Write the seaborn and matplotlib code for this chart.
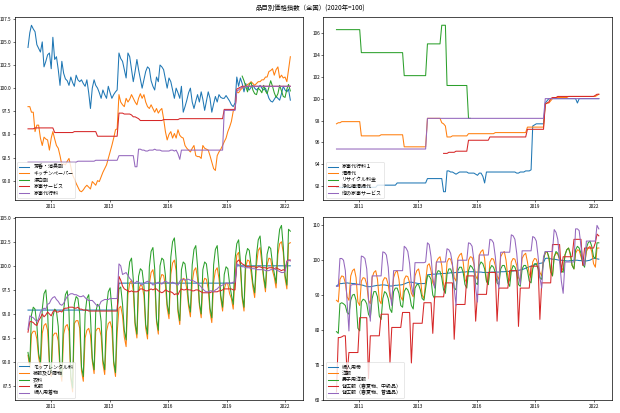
import numpy as np
import pandas as pd
import matplotlib
matplotlib.use("Agg")
import matplotlib.pyplot as plt
import matplotlib.dates as mdates
from matplotlib.ticker import MultipleLocator
import seaborn as sns

nan = np.nan
months = pd.date_range("2010-01-01", periods=148, freq="MS")

# ----------------------------
# panel 1
# ----------------------------
aroma = [
    104.4, 106.0, 106.8, 106.4, 106.1, 104.7, 104.3, 103.9, 105.0, 102.3, 102.9, 103.6,
    103.8, 102.1, 105.5, 103.1, 103.4, 102.0, 100.3, 102.9, 101.6, 101.0, 100.8, 100.3,
    101.2, 100.6, 100.2, 101.4, 100.9, 100.7, 100.9, 100.5, 100.2, 100.9, 99.5, 97.8,
    100.0, 100.9, 100.3, 100.0, 99.5, 98.9, 99.8, 99.3, 98.9, 100.2, 99.5, 98.9,
    99.3, 99.6, 99.8, 103.8, 103.2, 102.9, 102.0, 101.1, 103.8, 103.4, 102.0, 100.7,
    101.8, 103.1, 102.0, 101.0, 100.0, 100.9, 101.8, 102.3, 102.1, 100.8, 100.2, 99.8,
    101.2, 100.7, 102.5, 102.3, 102.0, 101.0, 100.0, 101.1, 100.7, 99.8, 98.9, 100.0,
    99.5, 98.9, 100.2, 97.4, 98.0, 98.7, 99.5, 100.0, 98.5, 97.8, 98.6, 99.3,
    98.5, 99.6, 98.8, 97.6, 98.6, 99.6, 98.9, 97.4, 98.3, 99.1, 98.5, 99.3,
    99.0, 98.9, 98.9, 99.2, 98.9, 98.6, 98.2, 98.0, 98.4, 101.2, 100.2, 101.1,
    100.5, 99.6, 100.5, 100.0, 99.8, 100.1, 100.3, 100.0, 99.8, 100.0, 100.3, 100.0,
    99.8, 100.0, 99.5, 98.9, 98.6, 98.5, 98.8, 99.1, 98.9, 98.7, 99.4, 100.2,
    99.8, 99.6, 99.9, 98.7,
]
kitchen_paper = [
    98.0, 98.0, 97.4, 97.4, 95.3, 96.0, 96.0, 94.6, 93.8, 94.7, 94.5, 94.4,
    93.3, 94.6, 95.3, 94.5, 93.8, 93.5, 92.7, 91.7, 91.8, 91.7, 92.1, 92.4,
    91.5, 90.6, 90.2, 89.7, 89.3, 88.9, 88.8, 89.0, 89.3, 89.5, 89.3, 89.1,
    89.9, 89.7, 89.5, 90.0, 89.9, 90.4, 90.9, 91.3, 91.7, 92.4, 93.1, 93.8,
    94.6, 95.5, 95.6, 99.3, 98.5, 98.2, 98.0, 98.9, 98.5, 98.8, 99.3, 98.9,
    98.5, 98.2, 98.9, 99.4, 98.9, 99.3, 98.5, 98.0, 97.8, 98.2, 97.8, 97.4,
    97.8, 97.3, 97.6, 97.8, 96.7, 95.3, 94.4, 95.0, 95.3, 94.6, 95.1, 94.6,
    95.5, 94.9, 94.7, 94.6, 93.8, 93.5, 93.3, 93.1, 93.5, 93.8, 92.7, 92.6,
    92.6, 92.4, 93.8, 93.5, 93.4, 93.3, 92.7, 92.0, 91.3, 91.1, 92.7, 93.1,
    93.4, 93.8, 94.2, 94.6, 95.3, 95.8, 96.4, 97.5, 97.8, 99.6, 99.5, 99.8,
    100.0, 100.1, 100.2, 100.4, 100.5, 100.7, 100.5, 100.3, 100.5, 100.7, 100.7, 100.9,
    100.9, 101.2, 101.2, 101.8, 101.9, 102.1, 101.4, 102.0, 102.3, 101.1, 101.4, 101.1,
    101.2, 100.7, 102.0, 103.4,
]
bleach = [nan] * 120 + [
    101.3, 100.8, 100.2, 99.6, 100.4, 100.6, 99.8, 99.4, 99.3, 100.0, 99.8, 99.5,
    100.3, 99.7, 99.4, 100.1, 100.8, 100.2, 99.5, 99.0, 99.4, 100.3, 99.7, 99.1,
    99.0, 99.9, 100.4, 99.7,
]
housework_service = [
    95.6, 95.6, 95.6, 95.6, 95.7, 95.7, 95.7, 95.7, 95.7, 95.7, 95.7, 95.7,
    95.7, 95.7, 95.7, 95.2, 95.2, 95.2, 95.2, 95.2, 95.2, 95.2, 95.2, 95.2,
    95.2, 95.2, 95.3, 95.3, 95.3, 95.3, 95.3, 95.3, 95.3, 95.3, 95.3, 95.3,
    95.3, 95.3, 95.3, 94.8, 94.8, 94.8, 94.8, 94.8, 94.8, 94.8, 94.8, 94.8,
    94.8, 94.8, 94.8, 97.3, 97.3, 97.3, 97.2, 97.2, 97.2, 97.2, 97.1, 96.9,
    96.9, 96.8, 96.7, 96.5, 96.5, 96.5, 96.5, 96.5, 96.5, 96.5, 96.5, 96.5,
    96.5, 96.5, 96.5, 96.5, 96.6, 96.6, 96.6, 96.6, 96.6, 96.6, 96.6, 96.6,
    96.6, 96.7, 96.7, 96.7, 96.7, 96.7, 96.7, 96.7, 96.7, 96.7, 96.7, 96.7,
    96.7, 96.7, 96.7, 96.7, 96.7, 96.7, 96.7, 96.7, 96.7, 96.7, 96.7, 96.7,
    96.7, 96.7, 97.7, 97.7, 97.7, 97.7, 97.7, 97.7, 97.7, 99.9, 100.0, 100.1,
    100.2, 100.2, 100.2, 100.2, 100.2, 100.2, 100.2, 100.2, 100.2, 100.2, 100.2, 100.2,
    100.2, 100.2, 100.2, 100.2, 100.2, 100.2, 100.2, 100.2, 100.2, 100.2, 100.2, 100.2,
    100.2, 100.2, 100.2, 100.2,
]
housework_agency = [
    92.0, 92.0, 92.0, 92.0, 92.0, 92.0, 92.0, 92.0, 92.0, 92.0, 92.0, 92.0,
    92.0, 92.0, 92.0, 92.0, 92.0, 92.0, 92.0, 92.0, 92.0, 92.0, 92.0, 92.0,
    92.0, 92.0, 92.0, 92.0, 92.1, 92.1, 92.1, 92.1, 92.1, 92.1, 92.1, 92.1,
    92.1, 92.1, 92.2, 92.2, 92.2, 92.2, 92.2, 92.2, 92.2, 92.2, 92.2, 92.2,
    92.2, 92.2, 92.2, 92.7, 92.7, 92.7, 92.7, 92.7, 92.7, 92.7, 92.7, 92.7,
    91.5, 91.5, 93.4, 93.4, 93.3, 93.3, 93.2, 93.2, 93.3, 93.3, 93.3, 93.4,
    93.3, 93.3, 93.3, 93.2, 93.2, 93.2, 93.2, 93.2, 93.3, 93.3, 93.2, 93.3,
    92.9, 92.3, 93.3, 93.3, 93.3, 93.3, 93.3, 93.3, 93.3, 93.3, 93.3, 93.3,
    93.3, 93.3, 93.3, 93.3, 93.3, 93.3, 93.3, 93.3, 93.3, 93.3, 93.3, 93.3,
    93.3, 93.3, 97.6, 97.6, 97.6, 97.6, 97.6, 97.6, 97.6, 99.7, 99.8, 100.0,
    100.1, 100.1, 100.2, 100.2, 100.2, 100.2, 100.2, 100.2, 100.2, 100.2, 100.2, 100.2,
    100.2, 100.2, 100.2, 100.2, 100.2, 100.2, 100.2, 100.2, 100.2, 100.2, 100.2, 100.2,
    100.2, 100.2, 100.2, 100.2,
]

# ----------------------------
# panel 2
# ----------------------------
agency_1 = [
    91.9, 91.9, 91.9, 91.9, 91.9, 91.9, 91.9, 91.9, 91.9, 91.9, 91.9, 91.9,
    91.9, 91.9, 91.9, 91.9, 91.9, 91.9, 91.9, 91.9, 91.9, 91.9, 91.9, 92.1,
    92.1, 92.1, 92.1, 92.1, 92.1, 92.1, 92.1, 92.1, 92.1, 92.1, 92.3, 92.3,
    92.3, 92.3, 92.3, 92.3, 92.3, 92.3, 92.3, 92.3, 92.3, 92.3, 92.3, 92.3,
    92.3, 92.3, 92.3, 92.7, 92.7, 92.7, 92.7, 92.7, 92.7, 92.7, 92.7, 92.7,
    91.5, 91.5, 93.4, 93.4, 93.3, 93.3, 93.2, 93.1, 93.2, 93.3, 93.3, 93.3,
    93.3, 93.3, 93.2, 93.2, 93.2, 93.2, 93.1, 93.0, 93.2, 93.2, 92.9, 92.3,
    93.3, 93.3, 93.3, 93.3, 93.3, 93.3, 93.3, 93.3, 93.3, 93.3, 93.3, 93.3,
    93.3, 93.3, 93.3, 93.3, 93.3, 93.2, 93.2, 93.3, 93.3, 93.3, 93.4, 93.4,
    93.4, 93.5, 97.5, 97.6, 97.7, 97.7, 97.7, 97.7, 97.7, 99.6, 99.8, 100.0,
    100.0, 100.0, 100.0, 100.0, 100.0, 100.0, 100.0, 100.0, 100.0, 100.0, 100.0, 100.0,
    100.0, 100.0, 100.0, 99.6, 100.0, 100.0, 100.0, 100.0, 100.0, 100.0, 100.0, 100.0,
    100.0, 100.0, 100.0, 100.0,
]
cleaning = [
    97.7, 97.8, 97.8, 97.9, 97.9, 97.9, 97.9, 97.9, 97.9, 97.9, 97.9, 97.9,
    97.9, 97.9, 96.6, 96.6, 96.6, 96.6, 96.6, 96.6, 96.6, 96.6, 96.6, 96.6,
    96.6, 96.7, 96.7, 96.7, 96.7, 96.7, 96.7, 96.7, 96.7, 96.7, 96.7, 96.7,
    96.7, 96.7, 95.6, 95.6, 95.6, 95.6, 95.6, 95.6, 95.6, 95.6, 95.6, 95.6,
    95.6, 95.6, 95.6, 98.2, 98.2, 98.2, 98.2, 98.2, 98.2, 98.2, 98.2, 97.8,
    97.7, 97.5, 96.5, 96.5, 96.5, 96.6, 96.6, 96.6, 96.6, 96.6, 96.6, 96.6,
    96.6, 96.6, 96.8, 96.8, 96.8, 96.8, 96.8, 96.8, 96.8, 96.8, 96.8, 96.8,
    96.8, 96.8, 96.8, 96.8, 96.8, 96.9, 96.9, 96.9, 96.9, 96.9, 96.9, 96.9,
    96.9, 96.9, 96.9, 96.9, 96.9, 96.9, 96.9, 96.9, 96.9, 96.9, 96.9, 97.4,
    97.4, 97.4, 97.4, 97.4, 97.4, 97.4, 97.4, 97.4, 97.4, 99.5, 99.6, 99.6,
    99.8, 100.0, 100.1, 100.1, 100.1, 100.1, 100.1, 100.1, 100.1, 100.1, 100.2, 100.2,
    100.2, 100.2, 100.2, 100.2, 100.2, 100.2, 100.2, 100.2, 100.2, 100.2, 100.2, 100.2,
    100.2, 100.2, 100.3, 100.4,
]
recycling = [
    106.3, 106.3, 106.3, 106.3, 106.3, 106.3, 106.3, 106.3, 106.3, 106.3, 106.3, 106.3,
    106.3, 106.3, 104.2, 104.2, 104.2, 104.2, 104.2, 104.2, 104.2, 104.2, 104.2, 104.2,
    104.2, 104.2, 104.2, 104.2, 104.2, 104.2, 104.2, 104.2, 104.2, 104.2, 104.2, 104.2,
    104.2, 104.2, 102.1, 102.1, 102.1, 102.1, 102.1, 102.1, 102.1, 102.1, 102.1, 102.1,
    102.1, 102.1, 102.1, 105.0, 105.0, 105.0, 105.0, 105.0, 105.0, 105.0, 105.0, 106.7,
    106.7, 106.7, 101.2, 101.2, 101.2, 101.2, 101.2, 101.2, 101.2, 101.2, 101.2, 101.2,
    101.2, 101.2, 98.2, 98.2,
] + [nan] * 72
septic_tank = [nan] * 60 + [
    95.0, 95.0, 95.0, 95.1, 95.1, 95.1, 95.1, 95.2, 95.2, 95.2, 95.2, 95.2,
    95.2, 95.2, 96.2, 96.2, 96.2, 96.2, 96.2, 96.2, 96.2, 96.2, 96.2, 96.2,
    96.2, 96.2, 96.5, 96.5, 96.5, 96.5, 96.5, 96.5, 96.5, 96.5, 96.5, 96.5,
    96.5, 96.5, 96.5, 96.5, 96.5, 96.5, 96.5, 96.5, 96.5, 96.5, 96.5, 97.2,
    97.2, 97.2, 97.2, 97.2, 97.2, 97.2, 97.2, 97.2, 97.2, 99.5, 99.6, 99.7,
    100.0, 100.1, 100.1, 100.1, 100.2, 100.2, 100.2, 100.2, 100.2, 100.2, 100.2, 100.2,
    100.2, 100.2, 100.2, 100.2, 100.2, 100.2, 100.2, 100.2, 100.2, 100.2, 100.2, 100.2,
    100.2, 100.3, 100.4, 100.4,
]
other_housework = [
    95.4, 95.4, 95.4, 95.4, 95.4, 95.4, 95.4, 95.4, 95.4, 95.4, 95.4, 95.4,
    95.4, 95.4, 95.4, 95.4, 95.4, 95.4, 95.4, 95.4, 95.4, 95.4, 95.4, 95.4,
    95.4, 95.4, 95.4, 95.4, 95.4, 95.4, 95.4, 95.4, 95.4, 95.4, 95.4, 95.4,
    95.4, 95.4, 95.4, 95.4, 95.4, 95.4, 95.4, 95.4, 95.4, 95.4, 95.4, 95.4,
    95.4, 95.4, 95.4, 98.2, 98.2, 98.2, 98.2, 98.2, 98.2, 98.2, 98.2, 98.2,
    98.2, 98.2, 98.2, 98.2, 98.2, 98.2, 98.2, 98.2, 98.2, 98.2, 98.2, 98.2,
    98.2, 98.2, 98.2, 98.2, 98.2, 98.2, 98.2, 98.2, 98.2, 98.2, 98.2, 98.2,
    98.2, 98.2, 98.2, 98.2, 98.2, 98.2, 98.2, 98.2, 98.2, 98.2, 98.2, 98.2,
    98.2, 98.2, 98.2, 98.2, 98.2, 98.2, 98.2, 98.2, 98.2, 98.2, 98.2, 98.2,
    98.2, 98.2, 98.2, 98.2, 98.2, 98.2, 98.2, 98.2, 98.2, 100.0, 100.0, 100.0,
    100.0, 100.0, 100.0, 100.0, 100.0, 100.0, 100.0, 100.0, 100.0, 100.0, 100.0, 100.0,
    100.0, 100.0, 100.0, 100.0, 100.0, 100.0, 100.0, 100.0, 100.0, 100.0, 100.0, 100.0,
    100.0, 100.0, 100.0, 100.0,
]

# ----------------------------
# panel 3
# ----------------------------
mop_rental = [
    95.4, 95.4, 95.4, 95.4, 95.4, 95.4, 95.4, 95.4, 95.4, 95.4, 95.4, 95.4,
    95.4, 95.4, 95.4, 95.4, 95.4, 95.4, 95.4, 95.4, 95.4, 95.4, 95.4, 95.4,
    95.4, 95.4, 95.4, 95.4, 95.4, 95.4, 95.4, 95.4, 95.4, 95.4, 95.4, 95.4,
    95.4, 95.4, 95.4, 95.4, 95.4, 95.4, 95.4, 95.4, 95.4, 95.4, 95.4, 95.4,
    95.4, 95.4, 95.4, 98.2, 98.2, 98.2, 98.2, 98.2, 98.2, 98.2, 98.2, 98.2,
    98.2, 98.2, 98.2, 98.2, 98.2, 98.2, 98.2, 98.2, 98.2, 98.2, 98.2, 98.2,
    98.2, 98.2, 98.2, 98.2, 98.2, 98.2, 98.2, 98.2, 98.2, 98.2, 98.2, 98.2,
    98.2, 98.2, 98.2, 98.2, 98.2, 98.2, 98.2, 98.2, 98.2, 98.2, 98.2, 98.2,
    98.2, 98.2, 98.2, 98.2, 98.2, 98.2, 98.2, 98.2, 98.2, 98.2, 98.2, 98.2,
    98.2, 98.2, 98.2, 98.2, 98.2, 98.2, 98.2, 98.2, 98.2, 100.0, 100.0, 100.0,
    100.0, 100.0, 100.0, 100.0, 100.0, 100.0, 100.0, 100.0, 100.0, 100.0, 100.0, 100.0,
    100.0, 100.0, 100.0, 100.0, 100.0, 100.0, 100.0, 100.0, 100.0, 100.0, 100.0, 100.0,
    100.0, 100.0, 100.0, 100.0,
]
clothing_footwear = [
    90.7, 89.4, 92.9, 93.2, 93.2, 92.4, 90.5, 89.4, 93.0, 93.8, 94.0, 93.3,
    89.8, 88.5, 92.7, 93.0, 93.0, 92.2, 89.1, 88.0, 92.9, 93.7, 93.9, 93.2,
    88.2, 86.9, 94.0, 94.3, 94.3, 93.5, 89.1, 88.0, 92.5, 93.3, 93.5, 92.8,
    90.1, 88.8, 93.2, 93.5, 93.5, 92.7, 89.8, 88.7, 93.2, 94.0, 94.2, 93.5,
    89.8, 88.5, 93.0, 95.6, 95.8, 94.8, 92.6, 91.6, 97.0, 98.2, 98.5, 97.4,
    93.8, 92.5, 97.4, 98.0, 97.9, 96.9, 93.5, 92.4, 98.1, 99.3, 99.6, 98.5,
    94.2, 92.9, 98.5, 99.1, 99.0, 98.0, 95.6, 94.5, 99.1, 100.3, 100.6, 99.5,
    95.2, 93.9, 98.1, 98.7, 98.6, 97.6, 95.8, 94.7, 98.3, 99.5, 99.8, 98.7,
    95.9, 94.6, 98.1, 98.7, 98.6, 97.6, 95.2, 94.1, 98.3, 99.5, 99.8, 98.7,
    96.6, 95.3, 97.6, 98.2, 98.1, 97.1, 96.6, 95.5, 98.9, 101.1, 101.4, 99.8,
    96.6, 95.3, 99.9, 100.6, 100.5, 99.3, 97.8, 96.7, 100.1, 101.6, 101.9, 100.3,
    98.6, 97.3, 100.1, 100.8, 100.7, 99.5, 98.8, 97.7, 101.2, 102.3, 102.5, 101.4,
    98.7, 97.6, 102.3, 102.4,
]
clothes = [
    91.0, 89.8, 94.9, 95.7, 95.5, 93.9, 90.9, 89.9, 95.5, 97.1, 97.5, 95.3,
    90.1, 88.9, 94.7, 95.5, 95.3, 93.7, 89.5, 88.5, 95.4, 97.0, 97.4, 95.2,
    88.5, 87.3, 96.0, 96.8, 96.6, 95.0, 89.5, 88.5, 95.0, 96.6, 97.0, 94.8,
    90.4, 89.2, 95.2, 96.0, 95.8, 94.2, 90.2, 89.2, 95.7, 97.3, 97.7, 95.5,
    90.1, 88.9, 95.0, 97.6, 97.8, 96.0, 93.3, 92.3, 98.8, 100.4, 100.8, 98.6,
    94.1, 92.9, 98.9, 99.7, 99.5, 97.9, 93.9, 92.9, 99.9, 101.5, 101.9, 99.7,
    94.5, 93.3, 100.0, 100.8, 100.6, 99.0, 96.0, 95.0, 100.9, 102.5, 102.9, 100.7,
    95.5, 94.3, 99.6, 100.4, 100.2, 98.6, 96.2, 95.2, 100.1, 101.7, 102.1, 99.9,
    96.2, 95.0, 99.6, 100.4, 100.2, 98.6, 95.6, 94.6, 100.1, 101.7, 102.1, 99.9,
    96.9, 95.7, 99.1, 99.9, 99.7, 98.1, 97.0, 96.0, 100.7, 102.3, 102.7, 100.5,
    96.9, 95.7, 101.0, 101.8, 101.6, 100.0, 98.2, 97.2, 101.1, 102.7, 103.1, 100.9,
    98.9, 97.7, 101.2, 102.0, 101.8, 100.2, 99.2, 98.2, 102.2, 103.8, 104.2, 102.0,
    99.0, 98.0, 103.8, 103.6,
]
kimono_wear = [
    93.1, 94.2, 94.2, 94.1, 93.9, 93.8, 94.3, 94.6, 95.0, 94.7, 94.9, 95.2,
    95.0, 94.8, 95.2, 95.4, 95.2, 95.2, 95.3, 95.2, 95.5, 95.6, 95.6, 95.7,
    95.7, 95.7, 95.6, 95.6, 95.7, 95.5, 95.5, 95.4, 95.4, 95.4, 95.3, 95.3,
    95.3, 95.3, 95.3, 95.3, 95.3, 95.3, 95.3, 95.3, 95.3, 95.3, 95.3, 95.3,
    95.3, 95.3, 95.3, 98.9, 98.5, 97.9, 97.6, 97.5, 97.4, 97.3, 97.4, 97.3,
    97.3, 97.3, 97.4, 97.6, 97.6, 97.5, 97.4, 97.4, 97.5, 97.6, 97.5, 97.6,
    97.6, 97.4, 97.3, 97.2, 97.3, 97.5, 97.4, 97.3, 97.3, 97.2, 97.0, 97.1,
    97.0, 97.4, 97.6, 97.5, 97.5, 97.6, 97.5, 97.5, 97.4, 97.4, 97.5, 97.5,
    97.4, 97.3, 97.2, 97.2, 97.2, 97.2, 97.2, 97.3, 97.3, 97.3, 97.3, 97.4,
    97.4, 97.5, 97.6, 97.6, 97.6, 97.6, 97.6, 97.5, 97.5, 100.4, 100.6, 100.4,
    100.2, 100.1, 100.0, 99.9, 99.9, 99.9, 99.9, 99.9, 99.8, 99.9, 99.9, 99.8,
    99.8, 99.8, 99.7, 99.8, 99.8, 99.8, 99.7, 99.8, 99.7, 99.6, 99.5, 99.6,
    99.5, 100.5, 100.6, 100.6,
]
womens_kimono = [
    93.4, 94.8, 94.7, 94.6, 94.4, 94.2, 94.5, 95.2, 95.4, 95.6, 95.5, 96.0,
    96.1, 96.5, 96.7, 96.8, 96.5, 96.3, 96.0, 95.9, 96.1, 96.5, 96.8, 97.0,
    97.1, 97.1, 97.0, 97.0, 96.9, 96.8, 96.8, 96.9, 96.7, 96.5, 96.4, 96.4,
    96.4, 96.2, 96.0, 95.8, 95.9, 96.3, 96.4, 96.5, 96.5, 96.5, 96.6, 96.6,
    96.6, 96.6, 96.6, 100.2, 100.0, 99.1, 99.2, 99.3, 99.0, 98.7, 98.5, 98.2,
    98.2, 98.4, 98.3, 98.1, 98.0, 98.2, 98.3, 98.4, 98.3, 98.2, 98.0, 98.1,
    98.2, 98.3, 98.2, 98.1, 98.3, 98.4, 98.3, 98.2, 98.2, 98.3, 98.2, 98.1,
    98.0, 98.4, 98.6, 98.6, 98.5, 98.6, 98.6, 98.5, 98.5, 98.4, 98.3, 98.2,
    98.0, 97.8, 97.6, 97.4, 97.3, 97.3, 97.4, 97.4, 97.3, 97.5, 97.6, 97.8,
    97.9, 98.0, 98.1, 98.2, 98.2, 98.2, 98.2, 98.3, 98.3, 100.2, 100.1, 100.0,
    99.9, 99.9, 99.8, 99.8, 99.8, 99.7, 99.7, 99.7, 99.6, 99.6, 99.6, 99.6,
    99.6, 99.5, 99.5, 99.5, 99.6, 99.6, 99.7, 99.6, 99.5, 99.4, 99.3, 99.3,
    99.4, 100.4, 100.6, 100.5,
]

# ----------------------------
# panel 4
# ----------------------------
womens_obi = [
    92.6, 93.0, 93.3, 93.3, 93.4, 93.4, 93.5, 93.4, 93.4, 93.3, 93.3, 93.2,
    93.1, 93.0, 92.9, 92.8, 92.6, 92.5, 92.4, 92.4, 92.5, 92.6, 92.7, 92.8,
    92.8, 92.9, 92.9, 92.9, 92.8, 92.7, 92.6, 92.6, 92.7, 92.8, 92.8, 92.9,
    92.9, 93.0, 93.2, 93.4, 93.6, 93.7, 93.7, 93.6, 93.5, 93.4, 93.3, 93.3,
    93.3, 93.3, 93.4, 95.8, 95.9, 95.9, 96.0, 96.0, 96.0, 96.1, 96.1, 96.2,
    96.2, 96.2, 96.3, 96.3, 96.4, 96.4, 96.4, 96.5, 96.5, 96.5, 96.6, 96.6,
    96.6, 96.7, 96.7, 96.7, 96.7, 96.7, 96.6, 96.6, 96.6, 96.6, 96.5, 96.5,
    96.5, 96.5, 96.5, 96.6, 96.6, 96.6, 96.6, 96.6, 96.7, 96.7, 96.7, 96.8,
    96.8, 96.8, 96.9, 96.9, 97.0, 97.0, 97.1, 97.2, 97.3, 97.5, 97.7, 97.9,
    98.1, 98.3, 98.5, 98.7, 98.9, 99.0, 99.1, 99.2, 99.3, 100.5, 100.6, 100.5,
    100.4, 100.3, 100.3, 100.2, 100.1, 100.0, 100.0, 99.9, 99.9, 99.8, 99.8, 99.9,
    99.9, 100.0, 100.0, 100.0, 99.9, 99.9, 99.8, 99.8, 99.8, 99.9, 100.0, 100.3,
    100.6, 100.5, 100.4, 100.3,
]
western_clothes = [
    88.5, 88.0, 94.5, 95.5, 95.3, 93.5, 89.5, 88.5, 95.5, 97.0, 97.5, 95.0,
    88.0, 87.0, 94.0, 95.0, 94.8, 93.0, 88.5, 87.5, 95.0, 96.5, 97.0, 94.5,
    88.5, 87.5, 94.0, 95.0, 94.8, 93.0, 89.5, 88.5, 95.0, 96.5, 97.0, 94.5,
    89.5, 88.5, 94.5, 95.5, 95.3, 93.5, 90.5, 89.5, 95.5, 97.0, 97.5, 95.0,
    90.0, 89.0, 94.0, 98.5, 99.0, 97.0, 93.5, 92.5, 99.5, 100.5, 101.0, 98.5,
    93.0, 92.0, 99.5, 100.5, 100.3, 98.5, 95.0, 94.0, 100.5, 101.5, 102.0, 99.5,
    94.5, 93.5, 100.0, 101.0, 100.8, 99.0, 95.5, 94.5, 101.5, 102.5, 103.0, 100.5,
    94.0, 93.0, 99.5, 100.5, 100.3, 98.5, 95.5, 94.5, 101.0, 102.0, 102.5, 100.0,
    95.0, 94.0, 99.5, 100.5, 100.3, 98.5, 95.0, 94.0, 100.5, 101.5, 102.0, 99.5,
    96.0, 95.0, 99.5, 100.5, 100.3, 98.5, 96.5, 95.5, 100.5, 102.0, 102.5, 100.5,
    96.5, 95.5, 101.0, 102.0, 101.8, 100.0, 98.0, 97.0, 101.5, 103.0, 103.5, 101.5,
    98.5, 97.5, 102.0, 103.0, 102.8, 101.0, 99.5, 98.5, 102.5, 103.5, 104.0, 102.5,
    99.0, 98.0, 103.5, 103.5,
]
mens_suits = [
    79.5, 79.0, 87.5, 87.8, 87.5, 87.0, 85.0, 84.5, 88.5, 90.0, 90.2, 88.5,
    80.5, 79.7, 88.0, 88.8, 88.5, 87.5, 84.5, 83.5, 89.0, 91.0, 91.0, 89.5,
    84.0, 83.0, 89.0, 91.0, 90.5, 89.0, 86.0, 85.0, 91.0, 92.0, 92.0, 90.5,
    87.0, 86.5, 91.0, 92.0, 91.5, 90.0, 87.0, 86.0, 92.0, 93.0, 93.0, 91.5,
    89.0, 88.5, 92.0, 95.5, 95.5, 94.5, 90.0, 89.0, 96.0, 97.0, 96.8, 95.0,
    91.5, 90.5, 96.0, 97.5, 97.5, 96.0, 92.0, 91.5, 97.0, 98.0, 98.0, 96.5,
    93.0, 92.0, 97.0, 98.5, 98.0, 97.0, 93.5, 93.0, 98.5, 99.5, 99.0, 97.5,
    94.0, 93.0, 97.5, 98.5, 98.0, 96.5, 93.5, 93.0, 97.5, 98.5, 98.5, 97.0,
    93.5, 92.5, 97.0, 98.5, 98.0, 96.5, 93.0, 92.5, 97.5, 98.5, 98.5, 97.0,
    94.0, 93.5, 97.5, 99.0, 99.0, 97.5, 95.0, 94.5, 100.0, 102.5, 102.5, 101.0,
    97.0, 95.5, 101.0, 102.5, 102.0, 100.5, 97.0, 96.5, 101.5, 103.0, 103.5, 102.0,
    98.5, 97.5, 103.0, 104.0, 103.5, 102.0, 99.0, 98.0, 103.5, 105.0, 105.5, 104.0,
    101.0, 100.5, 105.0, 105.0,
]
suit_mid = [
    62.2, 77.8, 77.8, 78.0, 78.3, 78.3, 67.0, 73.5, 73.5, 73.5, 73.5, 73.5,
    73.5, 83.5, 83.5, 83.5, 83.5, 83.5, 66.0, 78.3, 78.3, 78.3, 78.3, 78.3,
    78.3, 84.5, 84.5, 84.5, 84.5, 84.5, 70.5, 80.7, 80.7, 80.7, 80.7, 80.7,
    80.7, 85.0, 85.0, 85.0, 85.0, 85.0, 70.5, 81.9, 81.9, 81.9, 81.9, 81.9,
    81.9, 87.8, 87.8, 87.8, 87.8, 87.8, 79.0, 89.5, 89.5, 89.5, 89.5, 89.5,
    89.5, 93.5, 93.5, 93.5, 93.5, 93.5, 77.3, 87.3, 87.3, 87.3, 87.3, 87.3,
    87.3, 95.5, 95.5, 95.5, 95.5, 95.5, 82.5, 90.2, 90.2, 90.2, 90.2, 90.2,
    90.2, 96.5, 96.5, 96.5, 96.5, 96.5, 82.5, 92.0, 92.0, 92.0, 92.0, 92.0,
    92.0, 97.0, 97.0, 97.0, 97.0, 97.0, 81.0, 92.0, 92.0, 92.0, 92.0, 92.0,
    92.0, 98.3, 98.3, 98.3, 98.3, 98.3, 83.0, 93.5, 93.5, 93.5, 93.5, 93.5,
    93.5, 104.5, 104.5, 104.5, 104.5, 104.5, 96.5, 101.0, 101.0, 101.0, 101.0, 101.0,
    101.0, 106.0, 106.0, 106.0, 106.0, 106.0, 98.5, 103.5, 103.5, 103.5, 103.5, 103.5,
    103.5, 105.0, 107.5, 107.0,
]
suit_std = [
    92.5, 92.5, 100.5, 100.5, 100.0, 97.0, 88.0, 79.7, 92.8, 93.0, 93.0, 93.0,
    93.0, 93.0, 101.2, 101.0, 100.5, 97.5, 89.0, 82.5, 95.5, 95.5, 95.5, 95.5,
    95.5, 95.5, 102.4, 102.2, 101.5, 98.0, 91.0, 87.0, 97.0, 97.0, 97.0, 97.0,
    97.0, 97.0, 104.0, 103.5, 102.5, 99.0, 93.0, 90.0, 99.3, 99.3, 99.3, 99.3,
    99.3, 99.3, 99.5, 105.0, 104.5, 101.0, 95.0, 92.0, 99.5, 99.5, 99.5, 99.5,
    99.5, 99.5, 103.3, 103.0, 102.0, 99.0, 92.0, 87.0, 100.0, 100.0, 100.0, 100.0,
    100.0, 100.0, 105.0, 104.8, 104.0, 100.0, 92.0, 88.0, 101.5, 101.5, 101.5, 101.5,
    101.5, 101.5, 106.0, 105.8, 105.0, 101.0, 95.0, 92.0, 102.3, 102.3, 102.3, 102.3,
    102.3, 102.3, 107.3, 107.0, 106.0, 102.0, 96.0, 93.0, 102.7, 102.7, 102.7, 102.7,
    102.7, 102.7, 106.8, 106.5, 105.5, 101.0, 95.0, 92.0, 101.0, 102.5, 102.5, 102.5,
    102.5, 102.5, 108.8, 108.0, 106.0, 100.0, 94.0, 90.5, 99.5, 99.5, 99.5, 99.5,
    99.5, 99.5, 109.0, 109.0, 108.5, 104.0, 100.0, 98.5, 105.5, 105.5, 105.5, 105.5,
    105.5, 105.5, 110.0, 109.0,
]

panels = [
    [("芳香・消臭剤", aroma), ("キッチンペーパー", kitchen_paper), ("漂白剤", bleach),
     ("家事サービス", housework_service), ("家事代行料", housework_agency)],
    [("家事代行料１", agency_1), ("清掃代", cleaning), ("リサイクル料金", recycling),
     ("浄化槽清掃代", septic_tank), ("他の家事サービス", other_housework)],
    [("モップレンタル料", mop_rental), ("被服及び履物", clothing_footwear), ("衣料", clothes),
     ("和服", kimono_wear), ("婦人用着物", womens_kimono)],
    [("婦人用帯", womens_obi), ("洋服", western_clothes), ("男子用洋服", mens_suits),
     ("背広服（春夏物、中級品）", suit_mid), ("背広服（春夏物、普通品）", suit_std)],
]

plt.rcParams["font.family"] = ["Noto Sans CJK JP", "DejaVu Sans"]

fig, axes = plt.subplots(2, 2, figsize=(6.2, 4.13), dpi=100)
fig.subplots_adjust(left=0.024, right=0.987, bottom=0.031, top=0.959,
                    wspace=0.069, hspace=0.093)

for ax, series in zip(axes.flat, panels):
    for name, vals in series:
        sns.lineplot(x=months, y=vals, label=name, ax=ax, linewidth=0.75)
    ax.xaxis.set_major_locator(MultipleLocator(1000))
    ax.xaxis.set_major_formatter(mdates.DateFormatter("%Y"))
    ax.set_xlabel("")
    ax.set_ylabel("")
    ax.tick_params(labelsize=3.4, length=1.5, width=0.4, pad=1)
    for s in ax.spines.values():
        s.set_linewidth(0.5)
    leg = ax.legend(loc="lower left", fontsize=3.6, labelspacing=0.3,
                    handlelength=2.0, borderpad=0.4)
    leg.get_frame().set_linewidth(0.4)

fig.suptitle("品目別価格指数（全国）(2020年=100)", fontsize=4.6, y=0.99)

fig.savefig("out.png", dpi=100)
